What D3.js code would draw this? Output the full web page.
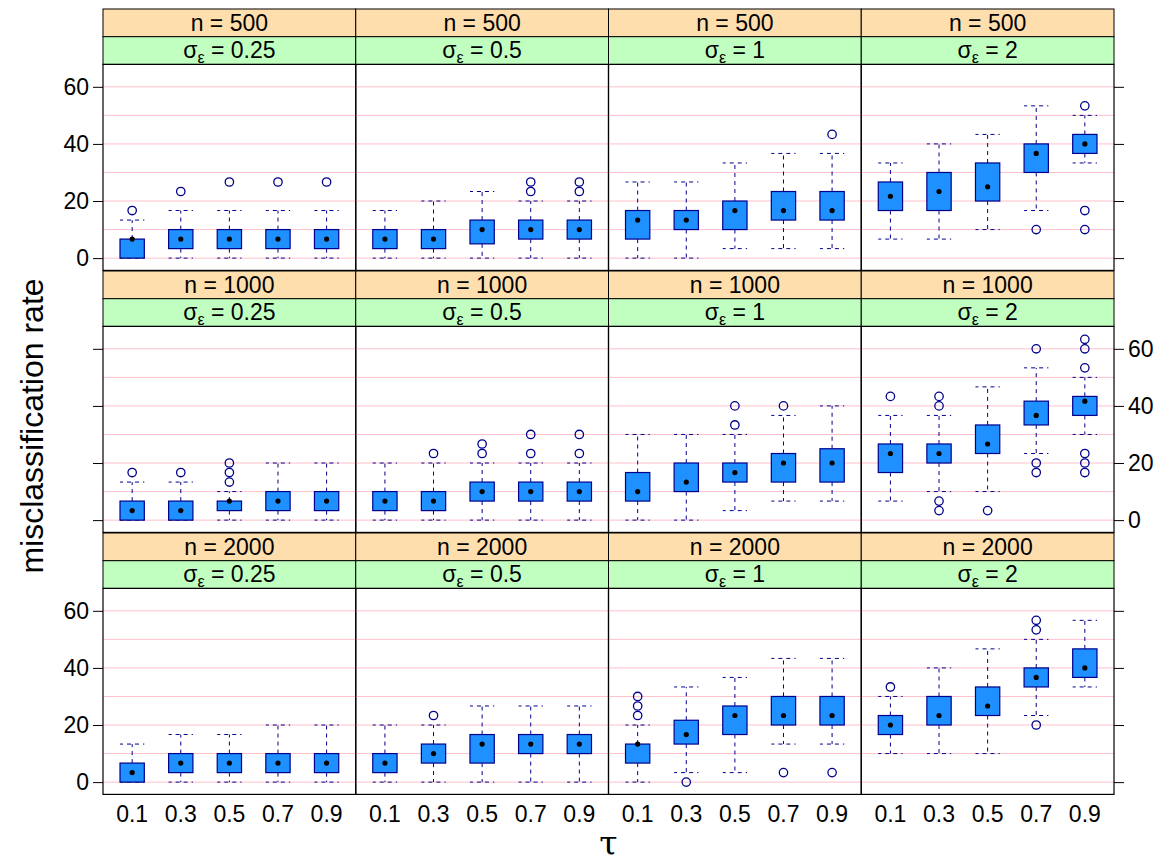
<!DOCTYPE html>
<html>
<head>
<meta charset="utf-8">
<script src="https://cdn.jsdelivr.net/npm/d3@7"></script>
<style>
  html, body { margin: 0; padding: 0; background: #fff; }
  svg text { font-family: "Liberation Sans", Arial, sans-serif; fill: #000; white-space: pre; }
</style>
</head>
<body>
<svg id="chart" width="1169" height="862"></svg>
<script>
// ---- data ----
const taus = ["0.1", "0.3", "0.5", "0.7", "0.9"];
const nLevels = ["500", "1000", "2000"];
const sigmaLevels = ["0.25", "0.5", "1", "2"];
const yTicks = [0, 20, 40, 60];
const gridLines = [0, 10, 20, 30, 40, 50, 60];

// each row: [lower whisker, Q1, median, Q3, upper whisker]
const stats_n500_s025 = [[0,0,6.67,6.67,13.33],[0,3.33,6.67,10,16.67],[0,3.33,6.67,10,16.67],[0,3.33,6.67,10,16.67],[0,3.33,6.67,10,16.67]];
const out_n500_s025 = [[16.67],[23.33],[26.67],[26.67],[26.67]];
const stats_n500_s05 = [[0,3.33,6.67,10,16.67],[0,3.33,6.67,10,20],[0,5,10,13.33,23.33],[0,6.67,10,13.33,20],[0,6.67,10,13.33,20]];
const out_n500_s05 = [[],[],[],[23.33,26.67],[23.33,26.67]];
const stats_n500_s1 = [[0,6.67,13.33,16.67,26.67],[0,10,13.33,16.67,26.67],[3.33,10,16.67,20,33.33],[3.33,13.33,16.67,23.33,36.67],[3.33,13.33,16.67,23.33,36.67]];
const out_n500_s1 = [[],[],[],[],[43.33]];
const stats_n500_s2 = [[6.67,16.67,21.67,26.67,33.33],[6.67,16.67,23.33,30,40],[10,20,25,33.33,43.33],[16.67,30,36.67,40,53.33],[33.33,36.67,40,43.33,50]];
const out_n500_s2 = [[],[],[],[10],[53.33,16.67,10]];

const stats_n1000_s025 = [[0,0,3.33,6.67,13.33],[0,0,3.33,6.67,13.33],[0,3.33,6.67,6.67,10],[0,3.33,6.67,10,20],[0,3.33,6.67,10,20]];
const out_n1000_s025 = [[16.67],[16.67],[13.33,16.67,20],[],[]];
const stats_n1000_s05 = [[0,3.33,6.67,10,20],[0,3.33,6.67,10,20],[0,6.67,10,13.33,20],[0,6.67,10,13.33,20],[0,6.67,10,13.33,20]];
const out_n1000_s05 = [[],[23.33],[23.33,26.67],[23.33,30],[23.33,30]];
const stats_n1000_s1 = [[0,6.67,10,16.67,30],[0,10,13.33,20,30],[3.33,13.33,16.67,20,30],[6.67,13.33,20,23.33,36.67],[6.67,13.33,20,25,40]];
const out_n1000_s1 = [[],[],[33.33,40],[40],[]];
const stats_n1000_s2 = [[6.67,16.67,23.33,26.67,36.67],[10,20,23.33,26.67,36.67],[10,23.33,26.67,33.33,46.67],[23.33,33.33,36.67,41.67,53.33],[30,36.67,41.67,43.33,50]];
const out_n1000_s2 = [[43.33],[3.33,6.67,40,43.33],[3.33],[16.67,20,60],[16.67,20,23.33,53.33,60,63.33]];

const stats_n2000_s025 = [[0,0,3.33,6.67,13.33],[0,3.33,6.67,10,16.67],[0,3.33,6.67,10,16.67],[0,3.33,6.67,10,20],[0,3.33,6.67,10,20]];
const out_n2000_s025 = [[],[],[],[],[]];
const stats_n2000_s05 = [[0,3.33,6.67,10,20],[0,6.67,10,13.33,20],[0,6.67,13.33,16.67,26.67],[0,10,13.33,16.67,26.67],[0,10,13.33,16.67,26.67]];
const out_n2000_s05 = [[],[23.33],[],[],[]];
const stats_n2000_s1 = [[0,6.67,13.33,13.33,20],[3.33,13.33,16.67,21.67,33.33],[3.33,16.67,23.33,26.67,36.67],[13.33,20,23.33,30,43.33],[13.33,20,23.33,30,43.33]];
const out_n2000_s1 = [[23.33,26.67,30],[0],[],[3.33],[3.33]];
const stats_n2000_s2 = [[10,16.67,20,23.33,30],[10,20,23.33,30,40],[10,23.33,26.67,33.33,46.67],[23.33,33.33,36.67,40,50],[33.33,36.67,40,46.67,56.67]];
const out_n2000_s2 = [[33.33],[],[],[20,53.33,56.67],[]];

const panelStats = [
  [stats_n500_s025, stats_n500_s05, stats_n500_s1, stats_n500_s2],
  [stats_n1000_s025, stats_n1000_s05, stats_n1000_s1, stats_n1000_s2],
  [stats_n2000_s025, stats_n2000_s05, stats_n2000_s1, stats_n2000_s2]
];
const panelOut = [
  [out_n500_s025, out_n500_s05, out_n500_s1, out_n500_s2],
  [out_n1000_s025, out_n1000_s05, out_n1000_s1, out_n1000_s2],
  [out_n2000_s025, out_n2000_s05, out_n2000_s1, out_n2000_s2]
];

// ---- layout ----
const svg = d3.select("#chart");
const left = 103, right = 1114;
const colW = (right - left) / 4;
const blockTop0 = 9, blockStep = 262, stripH = 27.7, panelH = 206;
const fs = 23;

const boxFill = "#1E90FF", boxStroke = "#00008B", pink = "#FFC0CB";

const x = d3.scalePoint().domain(taus).range([0, colW]).padding(0.6);
const boxW = x.step() * 0.5;

nLevels.forEach((nv, r) => {
  const bt = blockTop0 + r * blockStep;
  const pTop = bt + 2 * stripH;
  const pBot = pTop + panelH;
  const y = d3.scaleLinear().domain([-4.3, 67.85]).range([pBot, pTop]);

  sigmaLevels.forEach((sv, c) => {
    const px = left + c * colW;
    const g = svg.append("g").attr("transform", `translate(${px},0)`);

    // strips
    g.append("rect").attr("x", 0).attr("y", bt).attr("width", colW).attr("height", stripH)
      .attr("fill", "#FFDEAD").attr("stroke", "#000").attr("stroke-width", 1);
    g.append("rect").attr("x", 0).attr("y", bt + stripH).attr("width", colW).attr("height", stripH)
      .attr("fill", "#C1FFC1").attr("stroke", "#000").attr("stroke-width", 1);
    g.append("text").attr("x", colW / 2).attr("y", bt + stripH / 2 + 8.5)
      .attr("text-anchor", "middle").attr("font-size", fs).text(`n = ${nv}`);
    const st = g.append("text").attr("x", colW / 2).attr("y", bt + stripH * 1.5 + 7.5)
      .attr("text-anchor", "middle").attr("font-size", fs);
    st.append("tspan").text("σ");
    st.append("tspan").attr("font-size", fs * 0.7).attr("dy", 5).text("ε");
    st.append("tspan").attr("dy", -5).text(` = ${sv}`);

    const pg = g.append("g");

    // grid
    pg.selectAll("line.grid").data(gridLines).join("line")
      .attr("x1", 0).attr("x2", colW)
      .attr("y1", d => y(d)).attr("y2", d => y(d))
      .attr("stroke", pink).attr("stroke-width", 1);

    const stats = panelStats[r][c];
    const outs = panelOut[r][c];
    taus.forEach((t, i) => {
      const [lo, q1, med, q3, hi] = stats[i];
      const cx = x(t);
      const dash = "4,4";
      if (hi > q3) pg.append("line").attr("x1", cx).attr("x2", cx).attr("y1", y(q3)).attr("y2", y(hi))
        .attr("stroke", boxStroke).attr("stroke-dasharray", dash);
      if (lo < q1) pg.append("line").attr("x1", cx).attr("x2", cx).attr("y1", y(q1)).attr("y2", y(lo))
        .attr("stroke", boxStroke).attr("stroke-dasharray", dash);
      [lo, hi].forEach(v => {
        pg.append("line").attr("x1", cx - boxW / 2).attr("x2", cx + boxW / 2)
          .attr("y1", y(v)).attr("y2", y(v))
          .attr("stroke", boxStroke).attr("stroke-dasharray", dash).attr("stroke-dashoffset", 1);
      });
      pg.append("rect").attr("x", cx - boxW / 2).attr("width", boxW)
        .attr("y", y(q3)).attr("height", Math.max(0.5, y(q1) - y(q3)))
        .attr("fill", boxFill).attr("stroke", boxStroke).attr("stroke-width", 1.2);
      pg.append("circle").attr("cx", cx).attr("cy", y(med)).attr("r", 2.6).attr("fill", "#000");
      outs[i].forEach(v => {
        pg.append("circle").attr("cx", cx).attr("cy", y(v)).attr("r", 4.2)
          .attr("fill", "none").attr("stroke", boxStroke).attr("stroke-width", 1.3);
      });
    });

    // panel border
    g.append("rect").attr("x", 0).attr("y", pTop).attr("width", colW).attr("height", panelH)
      .attr("fill", "none").attr("stroke", "#000").attr("stroke-width", 1.2);

    if (r === nLevels.length - 1) {
      g.selectAll("text.xt").data(taus).join("text")
        .attr("x", d => x(d)).attr("y", pBot + 28)
        .attr("text-anchor", "middle").attr("font-size", fs).text(d => d);
    }
  });

  // y axes
  const labelsLeft = (r % 2 === 0);
  const axL = svg.append("g").attr("transform", `translate(${left},0)`)
    .call(d3.axisLeft(y).tickValues(yTicks).tickSize(10).tickPadding(4)
      .tickFormat(labelsLeft ? d3.format("d") : () => ""));
  const axR = svg.append("g").attr("transform", `translate(${right},0)`)
    .call(d3.axisRight(y).tickValues(yTicks).tickSize(10).tickPadding(4)
      .tickFormat(!labelsLeft ? d3.format("d") : () => ""));
  [axL, axR].forEach(a => {
    a.select(".domain").remove();
    a.selectAll("line").attr("stroke", "#000");
    a.selectAll("text").attr("font-size", fs).attr("font-family", "Liberation Sans, Arial, sans-serif")
      .attr("fill", "#000");
  });
});

// axis titles
svg.append("text").attr("transform", "translate(43,426) rotate(-90)")
  .attr("text-anchor", "middle").attr("font-size", 32).text("misclassification rate");
svg.append("text").attr("x", (left + right) / 2).attr("y", 855)
  .attr("text-anchor", "middle").attr("font-size", 33)
  .style("font-family", "'DejaVu Serif', serif").text("τ");
</script>
</body>
</html>
